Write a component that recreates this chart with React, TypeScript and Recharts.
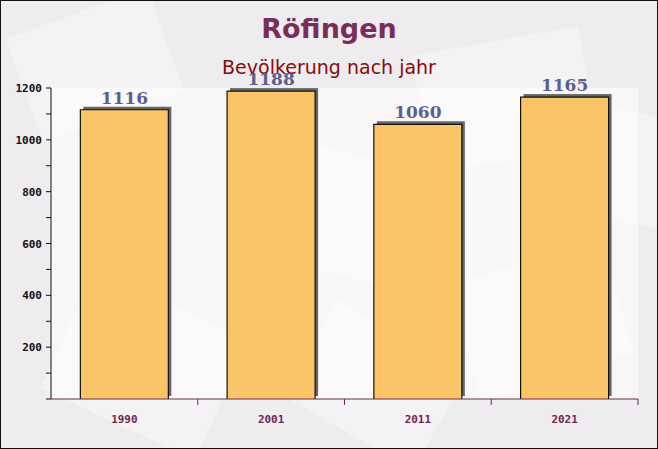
import React from "react";
import { BarChart, Bar, XAxis, YAxis, CartesianGrid, LabelList } from "recharts";

// Einwohner je Jahr
const YEARS = ["1990", "2001", "2011", "2021"];
const POPULATION = [1116, 1188, 1060, 1165];
const Y_TICKS = [0, 100, 200, 300, 400, 500, 600, 700, 800, 900, 1000, 1100, 1200];

const data = YEARS.map((year, i) => ({ year, value: POPULATION[i] }));

const W = 658;
const H = 449;

// Balken mit grauem Schatten oben/rechts
function ShadowBar(props: any) {
  const { x, y, width, height, fill } = props;
  if (!height || height <= 0) return null;
  return (
    <g>
      <rect x={x + 3} y={y - 3} width={width} height={height} fill="#666" />
      <rect x={x} y={y} width={width} height={height} fill={fill} />
      <path
        d={`M${x},${y + height} L${x},${y} L${x + width},${y} L${x + width},${y + height}`}
        fill="none"
        stroke="#111"
        strokeWidth={1.2}
      />
    </g>
  );
}

function YTick(props: any) {
  const { x, y, payload } = props;
  const v = payload.value;
  if (v === 0 || v % 200 !== 0) return null;
  return (
    <text
      x={x - 2}
      y={y + 4}
      textAnchor="end"
      fontFamily="'DejaVu Sans Mono', monospace"
      fontWeight="bold"
      fontSize={11}
      fill="#111"
    >
      {v}
    </text>
  );
}

function XTick(props: any) {
  const { x, y, payload, width } = props;
  const half = width / YEARS.length / 2;
  return (
    <g>
      <line x1={x + half} y1={y - 8} x2={x + half} y2={y - 2} stroke="#6b2a50" strokeWidth={1} />
      <text
        x={x}
        y={y + 16}
        textAnchor="middle"
        fontFamily="'DejaVu Sans Mono', monospace"
        fontWeight="bold"
        fontSize={11}
        fill="#6b2a50"
      >
        {payload.value}
      </text>
    </g>
  );
}

function Background() {
  const shapes = [
    { x: 20, y: 10, w: 150, h: 110, r: -20 },
    { x: 250, y: 150, w: 160, h: 120, r: 15 },
    { x: 420, y: 40, w: 170, h: 120, r: -10 },
    { x: 60, y: 300, w: 170, h: 130, r: 25 },
    { x: 460, y: 260, w: 160, h: 120, r: -18 },
    { x: 300, y: 330, w: 150, h: 110, r: 30 },
    { x: 560, y: 110, w: 120, h: 110, r: 12 },
  ];
  return (
    <svg width={W} height={H} style={{ position: "absolute", left: 0, top: 0 }}>
      <rect x={0} y={0} width={W} height={H} fill="#efecef" />
      <rect x={51} y={88} width={587} height={311} fill="#fbf9fa" opacity={0.8} />
      {shapes.map((s, i) => (
        <rect
          key={i}
          x={s.x}
          y={s.y}
          width={s.w}
          height={s.h}
          fill="#ffffff"
          opacity={0.35}
          transform={`rotate(${s.r} ${s.x + s.w / 2} ${s.y + s.h / 2})`}
        />
      ))}
    </svg>
  );
}

export default function App() {
  return (
    <div
      style={{
        position: "fixed",
        left: 0,
        top: 0,
        width: W,
        height: H,
        boxSizing: "border-box",
        overflow: "hidden",
      }}
    >
      <Background />
      <div
        style={{
          position: "absolute",
          left: 0,
          top: 13,
          width: W,
          textAlign: "center",
          fontFamily: "'DejaVu Sans', sans-serif",
          fontWeight: "bold",
          fontSize: 27,
          color: "#7b2d5a",
        }}
      >
        Röfingen
      </div>
      <div
        style={{
          position: "absolute",
          left: 0,
          top: 56,
          width: W,
          textAlign: "center",
          fontFamily: "'DejaVu Sans', sans-serif",
          fontSize: 19,
          color: "#8b0a0a",
        }}
      >
        Bevölkerung nach jahr
      </div>
      <div style={{ position: "absolute", left: 0, top: 0 }}>
        <BarChart
          width={W}
          height={H}
          data={data}
          margin={{ top: 88, right: 20, left: 0, bottom: 20 }}
          barCategoryGap="20%"
        >
          <CartesianGrid vertical={false} horizontal={false} />
          <XAxis
            dataKey="year"
            axisLine={{ stroke: "#6b2a50" }}
            tickLine={false}
            tick={<XTick />}
            height={30}
            interval={0}
          />
          <YAxis
            domain={[0, 1200]}
            ticks={Y_TICKS}
            interval={0}
            width={51}
            axisLine={{ stroke: "#111" }}
            tickLine={{ stroke: "#111" }}
            tickSize={5}
            tick={<YTick />}
          />
          <Bar dataKey="value" fill="#fbc467" shape={<ShadowBar />} isAnimationActive={false}>
            <LabelList
              dataKey="value"
              position="top"
              offset={6}
              fill="#5a5f8f"
              fontFamily="'DejaVu Serif', serif"
              fontWeight="bold"
              fontSize={17}
            />
          </Bar>
        </BarChart>
      </div>
      <div
        style={{
          position: "absolute",
          left: 0,
          top: 0,
          width: W,
          height: H,
          border: "1px solid #111",
          boxSizing: "border-box",
          pointerEvents: "none",
        }}
      />
    </div>
  );
}
